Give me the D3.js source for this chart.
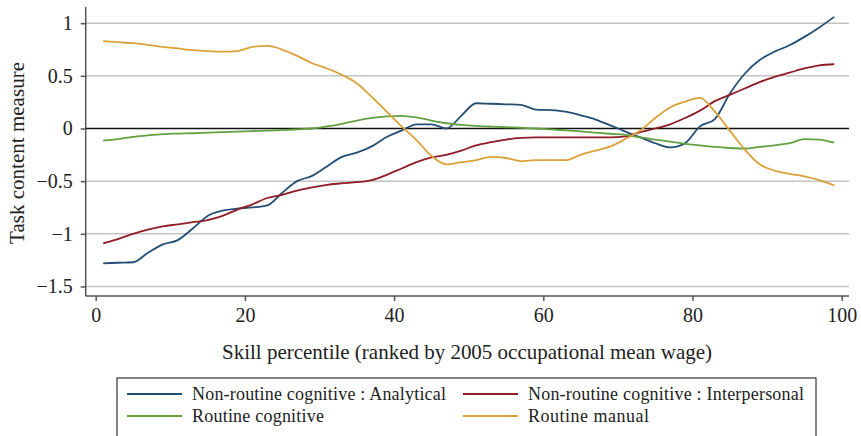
<!DOCTYPE html>
<meta charset="utf-8">
<html>
<head>
    <title>Task content by skill percentile</title>
    <script src="https://cdn.jsdelivr.net/npm/d3@7"></script>
</head>
<style>
    body{
        margin: 0;
        background: white;
    }
    svg{
        width: 861px;
        height: 436px;
        display: block;
    }
    text{
        font-family: "Liberation Serif", "DejaVu Serif", serif;
        fill: #222;
    }
    .grid line{
        stroke: #c4c4c4;
        stroke-width: 1.5px;
    }
    .axis path, .axis line{
        stroke: #555;
        stroke-width: 1.5px;
    }
</style>
<body>
<svg></svg>
<script>

    // skill percentiles (x)
    let percentiles = d3.range(1, 100, 2)

    // series values
    let analytical = [-1.28, -1.275, -1.27, -1.18, -1.10, -1.06, -0.95, -0.83, -0.78, -0.76,
        -0.75, -0.73, -0.61, -0.50, -0.45, -0.36, -0.27, -0.23, -0.17, -0.08,
        -0.02, 0.04, 0.04, 0.00, 0.12, 0.24, 0.235, 0.23, 0.225, 0.18,
        0.175, 0.16, 0.125, 0.085, 0.03, -0.03, -0.085, -0.14, -0.18, -0.14,
        0.02, 0.09, 0.33, 0.52, 0.65, 0.73, 0.79, 0.87, 0.96, 1.06]
    let interpersonal = [-1.09, -1.05, -1.00, -0.96, -0.93, -0.91, -0.89, -0.87, -0.83, -0.77,
        -0.72, -0.66, -0.63, -0.59, -0.56, -0.535, -0.52, -0.51, -0.49, -0.44,
        -0.38, -0.32, -0.275, -0.25, -0.21, -0.16, -0.13, -0.105, -0.09, -0.085,
        -0.085, -0.085, -0.085, -0.085, -0.085, -0.075, -0.035, 0.0, 0.04, 0.10,
        0.17, 0.26, 0.32, 0.38, 0.44, 0.49, 0.53, 0.57, 0.60, 0.61]
    let routineCognitive = [-0.115, -0.10, -0.08, -0.065, -0.053, -0.048, -0.045, -0.04, -0.035, -0.03,
        -0.025, -0.02, -0.015, -0.008, 0.0, 0.02, 0.045, 0.075, 0.10, 0.115,
        0.12, 0.105, 0.075, 0.05, 0.035, 0.025, 0.018, 0.012, 0.007, 0.0,
        -0.008, -0.018, -0.028, -0.04, -0.05, -0.06, -0.085, -0.105, -0.125, -0.145,
        -0.16, -0.175, -0.185, -0.19, -0.175, -0.16, -0.14, -0.10, -0.105, -0.135]
    let routineManual = [0.83, 0.82, 0.81, 0.795, 0.775, 0.76, 0.745, 0.735, 0.73, 0.735,
        0.775, 0.785, 0.75, 0.69, 0.62, 0.57, 0.51, 0.43, 0.30, 0.16,
        0.02, -0.11, -0.26, -0.34, -0.32, -0.30, -0.27, -0.28, -0.31, -0.30,
        -0.30, -0.30, -0.25, -0.21, -0.17, -0.10, -0.02, 0.10, 0.20, 0.255,
        0.29, 0.16, -0.02, -0.20, -0.34, -0.40, -0.43, -0.455, -0.49, -0.54]

    let seriesNames = ["Non-routine cognitive : Analytical", "Non-routine cognitive : Interpersonal",
        "Routine cognitive", "Routine manual"]
    let seriesColors = ["#244f75", "#8f1d26", "#62a040", "#dba139"]
    let seriesValues = [analytical, interpersonal, routineCognitive, routineManual]

    let xTicks = [0, 20, 40, 60, 80, 100]
    let yTicks = [-1.5, -1, -0.5, 0, 0.5, 1]

    //*****************************
    // scales
    let svg = d3.select("svg")
    let x = d3.scaleLinear().domain([0, 100]).range([95.7, 841.7])
    let y = d3.scaleLinear().domain([0, 1]).range([128.5, 23.2])
    let plotLeft = 85.7, plotRight = 849, plotTop = 7, plotBottom = 296

    //*****************************
    // grid lines
    svg.append("g").attr("class", "grid")
        .selectAll("line")
        .data(yTicks)
        .enter()
        .append("line")
        .attr("x1", plotLeft).attr("x2", plotRight)
        .attr("y1", d => y(d)).attr("y2", d => y(d))
        .style("stroke", d => d === 0 ? "#111" : null)
        .style("stroke-width", d => d === 0 ? "1.4px" : null)

    //*****************************
    // axes
    let fmt = d => d3.format("")(d).replace("-", "\u2212")
    let yAxis = svg.append("g").attr("class", "axis")
        .attr("transform", `translate(${plotLeft},0)`)
        .call(d3.axisLeft(y).tickValues(yTicks).tickSize(5).tickSizeOuter(0).tickFormat(fmt))
    yAxis.select(".domain").attr("d", `M0,${plotTop}V${plotBottom}`)
    let xAxis = svg.append("g").attr("class", "axis")
        .attr("transform", `translate(0,${plotBottom})`)
        .call(d3.axisBottom(x).tickValues(xTicks).tickSize(5).tickSizeOuter(0))
    xAxis.select(".domain").attr("d", `M${plotLeft},0H${plotRight}`)
    svg.selectAll(".axis text")
        .style("font-size", "20px")
        .style("font-family", "'Liberation Serif', serif")
        .attr("fill", "#222")
    yAxis.selectAll("text").attr("x", -13)
    xAxis.selectAll("text").attr("y", 12)

    // axis titles
    svg.append("text")
        .attr("transform", "translate(24,153) rotate(-90)")
        .attr("text-anchor", "middle")
        .attr("textLength", 182)
        .style("font-size", "21px")
        .text("Task content measure")
    svg.append("text")
        .attr("x", 467).attr("y", 359)
        .attr("text-anchor", "middle")
        .attr("textLength", 490)
        .style("font-size", "21px")
        .text("Skill percentile (ranked by 2005 occupational mean wage)")

    //*****************************
    // lines
    let line = d3.line()
        .x((d, i) => x(percentiles[i]))
        .y(d => y(d))
        .curve(d3.curveMonotoneX)
    svg.append("g")
        .selectAll("path")
        .data(seriesValues)
        .enter()
        .append("path")
        .attr("d", d => line(d))
        .attr("fill", "none")
        .attr("stroke", (d, i) => seriesColors[i])
        .attr("stroke-width", 1.8)

    //*****************************
    // legend
    let legendWidths = [254, 276, 132, 121]
    let legend = svg.append("g")
    legend.append("rect")
        .attr("x", 117).attr("y", 378)
        .attr("width", 699).attr("height", 60)
        .attr("fill", "white").attr("stroke", "#333").attr("stroke-width", 1.2)
    let items = legend.selectAll("g.item")
        .data(seriesNames)
        .enter()
        .append("g")
        .attr("class", "item")
        .attr("transform", (d, i) => `translate(${i % 2 ? 463 : 127},${i < 2 ? 394 : 416})`)
    items.append("line")
        .attr("x1", 0).attr("x2", 55)
        .attr("stroke", (d, i) => seriesColors[i])
        .attr("stroke-width", 1.8)
    items.append("text")
        .attr("x", 65).attr("dy", "0.35em")
        .attr("textLength", (d, i) => legendWidths[i])
        .style("font-size", "18px")
        .text(d => d)
</script>
</body>
</html>
